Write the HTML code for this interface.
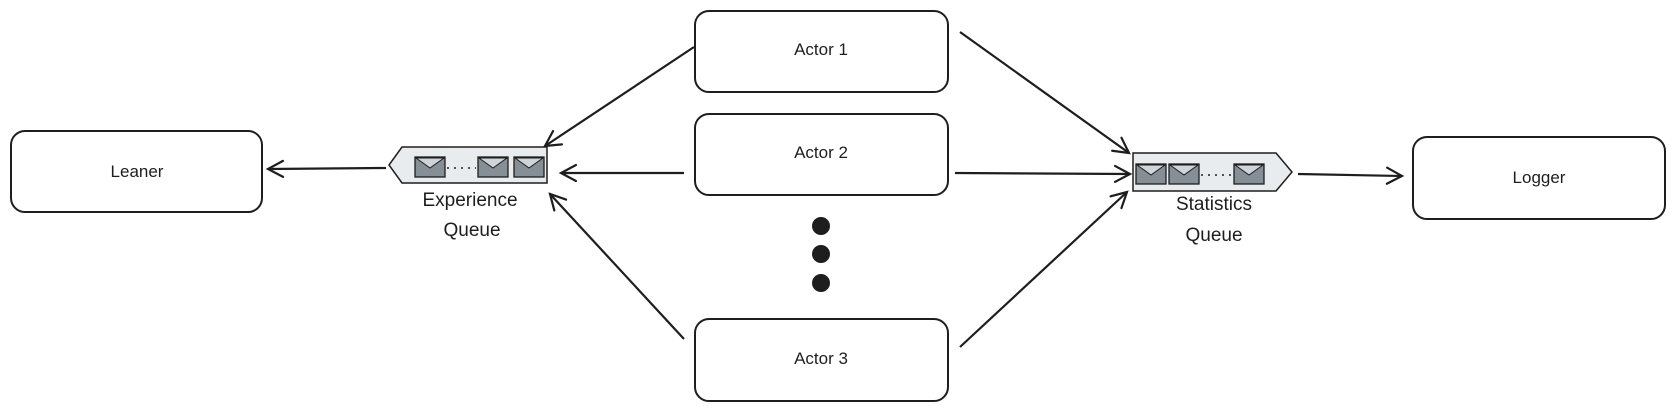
<!DOCTYPE html>
<html><head><style>
body{margin:0;background:#fff;}
svg{display:block;font-family:"Liberation Sans",sans-serif;}
</style></head><body>
<svg width="1672" height="410" viewBox="0 0 1672 410">
<defs>
<marker id="a" markerWidth="20" markerHeight="20" refX="17" refY="10" orient="auto" markerUnits="userSpaceOnUse">
<path d="M2,2 L17,10 L2,18" fill="none" stroke="#1e1e1e" stroke-width="2.2" stroke-linecap="round"/>
</marker>
<g id="env"><rect x="0" y="0" width="30" height="20" fill="#868e96" stroke="#1e1e1e" stroke-width="1.3"/><path d="M1,1 L15,11 L29,1 Z" fill="#ced4da" stroke="#1e1e1e" stroke-width="1"/></g>
</defs>
<g fill="#fff" stroke="#1e1e1e" stroke-width="2">
<rect x="11" y="131" width="251" height="81" rx="14"/>
<rect x="695" y="11" width="253" height="81" rx="14"/>
<rect x="695" y="114" width="253" height="81" rx="14"/>
<rect x="695" y="319" width="253" height="82" rx="14"/>
<rect x="1413" y="137" width="252" height="82" rx="14"/>
</g>
<g font-size="17" fill="#1e1e1e" text-anchor="middle">
<text x="137" y="177">Leaner</text>
<text x="821" y="55">Actor 1</text>
<text x="821" y="158">Actor 2</text>
<text x="821" y="364">Actor 3</text>
<text x="1539" y="183">Logger</text>
</g>
<g fill="#1e1e1e"><circle cx="821" cy="226" r="9"/><circle cx="821" cy="254" r="9"/><circle cx="821" cy="283" r="9"/></g>
<path d="M402,147 L547,147 L547,183 L402,183 L389,165 Z" fill="#e9ecef" stroke="#1e1e1e" stroke-width="1.5"/>
<use href="#env" x="415" y="157"/><use href="#env" x="478" y="157"/><use href="#env" x="514" y="157"/>
<path d="M447,168 L476,168" stroke="#1e1e1e" stroke-dasharray="2,5" stroke-width="1.5"/>
<path d="M1133,153 L1276,153 L1292,172 L1276,191 L1133,191 Z" fill="#e9ecef" stroke="#1e1e1e" stroke-width="1.5"/>
<use href="#env" x="1136" y="164"/><use href="#env" x="1169" y="164"/><use href="#env" x="1234" y="164"/>
<path d="M1201,175 L1232,175" stroke="#1e1e1e" stroke-dasharray="2,5" stroke-width="1.5"/>
<g font-size="19" fill="#1e1e1e" text-anchor="middle">
<text x="470" y="206">Experience</text><text x="472" y="236">Queue</text>
<text x="1214" y="210">Statistics</text><text x="1214" y="241">Queue</text>
</g>
<g stroke="#1e1e1e" stroke-width="2.2" fill="none" marker-end="url(#a)">
<line x1="386" y1="168" x2="268" y2="169"/>
<line x1="694" y1="47" x2="545" y2="146"/>
<line x1="684" y1="173" x2="561" y2="173"/>
<line x1="684" y1="339" x2="550" y2="194"/>
<line x1="960" y1="32" x2="1129" y2="153"/>
<line x1="955" y1="173" x2="1130" y2="174"/>
<line x1="960" y1="347" x2="1127" y2="192"/>
<line x1="1298" y1="174" x2="1402" y2="176"/>
</g>
</svg>
</body></html>
